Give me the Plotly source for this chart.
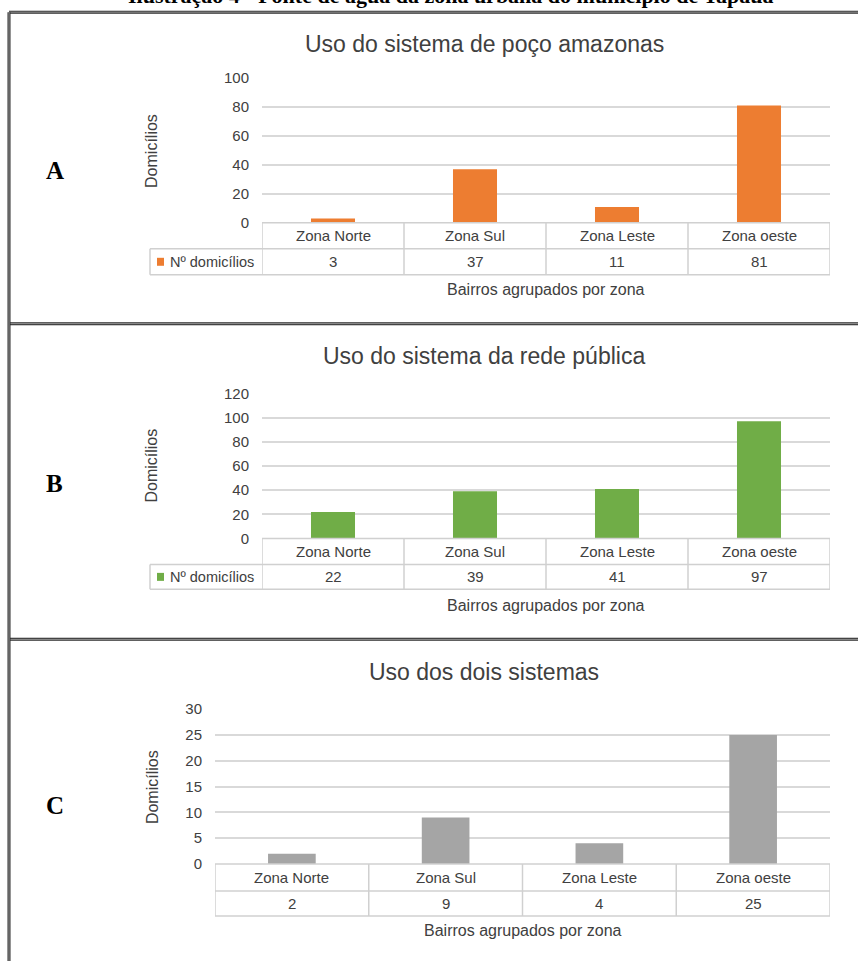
import plotly.graph_objects as go

W, H = 858, 961

# ---- data ----
zonas = ["Zona Norte", "Zona Sul", "Zona Leste", "Zona oeste"]
poco_amazonas = [3, 37, 11, 81]
rede_publica = [22, 39, 41, 97]
dois_sistemas = [2, 9, 4, 25]

titulos = ["Uso do sistema de poço amazonas", "Uso do sistema da rede pública", "Uso dos dois sistemas"]
letras = ["A", "B", "C"]
y_max = [100, 120, 30]
y_passo = [20, 20, 5]
legenda = "Nº domicílios"
eixo_x = "Bairros agrupados por zona"
eixo_y = "Domicílios"
legenda_visivel = [True, True, False]
legenda_titulo = "Ilustração 4 - Fonte de água da zona urbana do município de Tapauá"

series = [poco_amazonas, rede_publica, dois_sistemas]
cores = ["#ED7D31", "#70AD47", "#A5A5A5"]

# ---- pixel geometry of each panel (page pixels) ----
paineis = [
    dict(x0=262, x1=830, y0=222, ytop=77, r1=248, r2=274, ty=43, xt=289, lx=150, ly=170, yl=150),
    dict(x0=262, x1=830, y0=538, ytop=393, r1=564, r2=589, ty=355, xt=605, lx=150, ly=483, yl=465),
    dict(x0=215, x1=830, y0=864, ytop=709, r1=891, r2=916, ty=672, xt=931, lx=None, ly=805, yl=787),
]

# the page adds an 8px body margin above and below the figure, and the
# snapshot squeezes the resulting 977px page into 961px
PAGE_OFF = 8.0
PAGE_SCALE = H / (H + 16.0)


def px(x):
    return x / W


def py(y):
    y_fig = (y - PAGE_OFF * PAGE_SCALE) / PAGE_SCALE
    return 1 - y_fig / H


FONT = "Liberation Sans, Arial, sans-serif"
SERIF = "Liberation Serif, Times New Roman, serif"
TXT = "#404040"
GRID = "#d9d9d9"
TAB = "#d0d0d0"

fig = go.Figure()
shapes = []
ann = []

for i, p in enumerate(paineis):
    n = i + 1
    xa = "x" if n == 1 else f"x{n}"
    ya = "y" if n == 1 else f"y{n}"

    fig.add_trace(go.Bar(
        x=zonas, y=series[i], marker=dict(color=cores[i], line=dict(width=0)),
        width=0.31, xaxis=xa, yaxis=ya, name=legenda, showlegend=False,
    ))

    fig.layout[f"xaxis{'' if n == 1 else n}"] = dict(
        domain=[px(p["x0"]), px(p["x1"])], anchor=ya, type="category",
        categoryorder="array", categoryarray=zonas,
        range=[-0.5, 3.5], showticklabels=False, showgrid=False,
        zeroline=False, showline=False, ticks="", fixedrange=True,
    )
    fig.layout[f"yaxis{'' if n == 1 else n}"] = dict(
        domain=[py(p["y0"]), py(p["ytop"])], anchor=xa,
        range=[0, y_max[i]], dtick=y_passo[i], tick0=0,
        showgrid=True, gridcolor=GRID, gridwidth=1.5,
        zeroline=False, showline=False, ticks="",
        ticklabelstandoff=12,
        tickfont=dict(family=FONT, size=15, color=TXT), fixedrange=True,
    )

    # chart title
    ann.append(dict(text=titulos[i], x=px(484), y=py(p["ty"]), xref="paper", yref="paper",
                    xanchor="center", yanchor="middle", showarrow=False,
                    font=dict(family=FONT, size=23, color=TXT)))
    # panel letter
    ann.append(dict(text=f"<b>{letras[i]}</b>", x=px(55), y=py(p["ly"]), xref="paper", yref="paper",
                    xanchor="center", yanchor="middle", showarrow=False,
                    font=dict(family=SERIF, size=25, color="#000000")))
    # y axis title
    ann.append(dict(text=eixo_y, x=px(152), y=py(p["yl"]), xref="paper", yref="paper",
                    xanchor="center", yanchor="middle", textangle=-90, showarrow=False,
                    font=dict(family=FONT, size=16, color=TXT)))
    # x axis title
    ann.append(dict(text=eixo_x, x=px((p["x0"] + p["x1"]) / 2), y=py(p["xt"]), xref="paper", yref="paper",
                    xanchor="center", yanchor="middle", showarrow=False,
                    font=dict(family=FONT, size=16, color=TXT)))

    # data table below the bars
    left = p["lx"] if legenda_visivel[i] else p["x0"]
    line = dict(color=TAB, width=1.5)
    shapes.append(dict(type="line", xref="paper", yref="paper", x0=px(p["x0"]), x1=px(p["x1"]),
                       y0=py(p["y0"]), y1=py(p["y0"]), line=line))
    for yy in (p["r1"], p["r2"]):
        shapes.append(dict(type="line", xref="paper", yref="paper", x0=px(left), x1=px(p["x1"]),
                           y0=py(yy), y1=py(yy), line=line))
    for b in [-0.5, 0.5, 1.5, 2.5, 3.5]:
        shapes.append(dict(type="line", xref=xa, yref="paper", x0=b, x1=b,
                           y0=py(p["y0"]), y1=py(p["r2"]), line=line))
    if legenda_visivel[i]:
        shapes.append(dict(type="line", xref="paper", yref="paper", x0=px(left), x1=px(left),
                           y0=py(p["r1"]), y1=py(p["r2"]), line=line))
        mid = (p["r1"] + p["r2"]) / 2
        shapes.append(dict(type="rect", xref="paper", yref="paper", x0=px(157), x1=px(164),
                           y0=py(mid + 4), y1=py(mid - 4), fillcolor=cores[i], line=dict(width=0)))
        ann.append(dict(text=legenda, x=px(168), y=py(mid), xref="paper", yref="paper",
                        xanchor="left", yanchor="middle", showarrow=False,
                        font=dict(family=FONT, size=14.5, color=TXT)))
    for z, v in zip(zonas, series[i]):
        ann.append(dict(text=z, x=z, y=py((p["y0"] + p["r1"]) / 2), xref=xa, yref="paper",
                        xanchor="center", yanchor="middle", showarrow=False,
                        font=dict(family=FONT, size=15, color=TXT)))
        ann.append(dict(text=str(v), x=z, y=py((p["r1"] + p["r2"]) / 2), xref=xa, yref="paper",
                        xanchor="center", yanchor="middle", showarrow=False,
                        font=dict(family=FONT, size=15, color=TXT)))


# frame: double rules around and between the panels
def dupla(x0, y0, x1, y1):
    shapes.append(dict(type="line", xref="paper", yref="paper", x0=px(x0), x1=px(x1),
                       y0=py(y0), y1=py(y1), line=dict(color="#2b2b2b", width=3)))
    shapes.append(dict(type="line", xref="paper", yref="paper", x0=px(x0), x1=px(x1),
                       y0=py(y0), y1=py(y1), line=dict(color="#a0a0a0", width=1)))


for yy in (11, 323, 639):
    dupla(9, yy, W + 2, yy)
dupla(9, 11, 9, H + 20)

# caption above the frame (only its lower edge falls inside the page)
ann.append(dict(text=f"<b>{legenda_titulo}</b>", x=px(450), y=py(9), xref="paper", yref="paper",
                xanchor="center", yanchor="bottom", showarrow=False,
                font=dict(family=SERIF, size=22, color="#000000")))

fig.update_layout(
    width=W, height=H, margin=dict(l=0, r=0, t=0, b=0),
    paper_bgcolor="#ffffff", plot_bgcolor="#ffffff",
    showlegend=False, bargap=0.69,
    shapes=shapes, annotations=ann,
)

fig.write_html("out.html")
